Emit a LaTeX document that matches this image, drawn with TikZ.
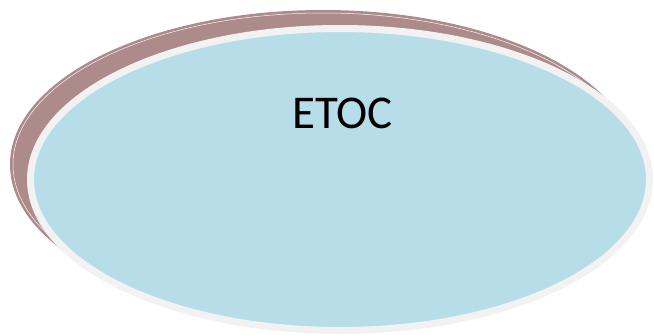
\documentclass[tikz,border=0pt]{standalone}
\usepackage{fontspec}
\setmainfont{Carlito}
\usetikzlibrary{shapes.geometric}
\definecolor{shadowbrown}{RGB}{174,139,139}
\definecolor{ovalblue}{RGB}{183,221,232}
\definecolor{rimgray}{RGB}{242,242,242}
\begin{document}
\begin{tikzpicture}[x=1pt,y=-1pt,line join = round, line cap = round,
	oval/.style={ellipse,inner sep=0pt,outer sep=0pt}]
			\useasboundingbox (0,0) rectangle (654,335);
			% shadow behind the oval
			\node[oval,fill=shadowbrown,minimum width=626pt,minimum height=309pt] (shadow) at (323,164.5) {};
			\draw[white,line width=0.5pt,opacity=0.9] (shadow.center) ellipse (310 and 151.5);
			% main oval
			\node[oval,fill=ovalblue,draw=rimgray,line width=7pt,minimum width=619pt,minimum height=302pt] (etoc) at (340,179.5) {};
			\node[anchor=base,font=\fontsize{47}{56}\selectfont] (label) at (342.5,128.5) {ETOC};
		\end{tikzpicture}
\end{document}
